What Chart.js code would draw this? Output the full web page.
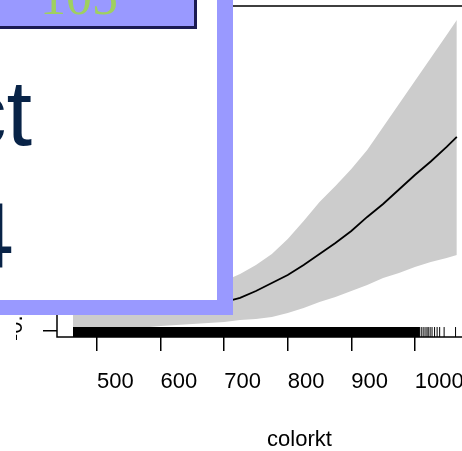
<!DOCTYPE html>
<html>
<head>
<meta charset="utf-8">
<script src="https://cdn.jsdelivr.net/npm/chart.js@4.4.1/dist/chart.umd.min.js"></script>
<style>
  html, body { margin: 0; padding: 0; background: #fff; }
  #wrap { position: relative; width: 462px; height: 451px; overflow: hidden; }
  #plot { position: absolute; left: 0; top: 0; }
  .ov { position: absolute; }
  #frame { left: 0; top: 0; width: 233px; height: 315px; background: #9999ff; }
  #inner { left: 0; top: 0; width: 217px; height: 300px; background: #fff; }
  #badge { left: -10px; top: -10px; width: 207px; height: 39px; box-sizing: border-box;
           background: #9999ff; border-right: 3px solid #1b1b52; border-bottom: 3px solid #1b1b52; }
  #badgeText { left: 0; top: -29px; width: 158px; text-align: center; white-space: nowrap;
               font-family: 'Liberation Serif', 'Times New Roman', serif; font-size: 52px; line-height: 52px; color: #9fd060; }
  .big { font-family: 'Liberation Sans', Arial, sans-serif; font-size: 92px; line-height: 92px;
         color: #082347; text-align: right; white-space: nowrap; }
  #ct { right: 430px; top: 67px; }
  #four { right: 448px; top: 189px; }
</style>
</head>
<body>
<div id="wrap">
  <canvas id="plot" width="550" height="451"></canvas>
  <div class="ov" id="frame"></div>
  <div class="ov" id="inner"></div>
  <div class="ov" id="badge"></div>
  <div class="ov" id="badgeText">105</div>
  <div class="ov big" id="ct">ct</div>
  <div class="ov big" id="four">4</div>
</div>
<script>
// smooth term for colorkt
const colorkt = [462, 500, 550, 600, 650, 700, 725, 750, 775, 800, 825, 850, 875, 900, 925, 950, 975, 1000, 1025, 1050, 1066];
const fit = [-0.275, -0.265, -0.255, -0.245, -0.235, -0.216, -0.176, -0.108, -0.029, 0.049, 0.147, 0.255, 0.363,
             0.480, 0.618, 0.745, 0.887, 1.029, 1.162, 1.304, 1.402];
const upper = [-0.020, -0.049, -0.069, -0.069, -0.039, -0.010, 0.059, 0.147, 0.255, 0.402, 0.578, 0.765, 0.922,
               1.088, 1.275, 1.500, 1.725, 1.951, 2.176, 2.402, 2.549];
const lower = [-0.529, -0.510, -0.480, -0.451, -0.431, -0.412, -0.392, -0.382, -0.363, -0.324, -0.275, -0.216, -0.167,
               -0.108, -0.049, 0.020, 0.069, 0.127, 0.176, 0.216, 0.245];

// rug: solid where observations are dense, single marks where sparse
const rugDense = [462, 1008];
const rugSparse = [1010, 1013, 1016, 1019, 1021, 1024, 1027, 1031, 1035, 1039, 1046, 1064];

const xTicks = [500, 600, 700, 800, 900, 1000];
const yTicks = [-0.5, 0, 0.5, 1, 1.5, 2, 2.5];
const xRange = [437, 1200];
const yRange = [-0.559, 2.686];

const rugTop = yRange[0] + 0.03 * (yRange[1] - yRange[0]);
const rugMid = yRange[0] + 0.015 * (yRange[1] - yRange[0]);

const pts = (ys) => colorkt.map((x, i) => ({ x: x, y: ys[i] }));
const none = 'rgba(0,0,0,0)';

Chart.defaults.font.family = "'Liberation Sans', Arial, sans-serif";

const plotBox = {
    id: 'plotBox',
    afterDraw(chart) {
        const { ctx, chartArea: a } = chart;
        ctx.save();
        ctx.strokeStyle = '#000';
        ctx.lineWidth = 1.5;
        ctx.strokeRect(a.left, a.top, a.right - a.left, a.bottom - a.top);
        ctx.restore();
    }
};

new Chart(document.getElementById('plot'), {
    type: 'line',
    data: {
        datasets: [
            { label: 'fit', data: pts(fit), borderColor: '#000', borderWidth: 1.8, pointRadius: 0, fill: false },
            { label: 'rug', data: rugSparse.map(x => ({ x: x, y: rugMid })), showLine: false,
              pointStyle: 'line', rotation: 90, pointRadius: 5, pointBorderWidth: 1,
              pointBorderColor: '#000', borderColor: '#000' },
            { label: 'rugBand', data: rugDense.map(x => ({ x: x, y: rugTop })), borderColor: none,
              borderWidth: 0, pointRadius: 0, fill: 'start', backgroundColor: '#000' },
            { label: 'upper', data: pts(upper), borderColor: none, borderWidth: 0, pointRadius: 0,
              fill: '+1', backgroundColor: '#cccccc' },
            { label: 'lower', data: pts(lower), borderColor: none, borderWidth: 0, pointRadius: 0, fill: false }
        ]
    },
    options: {
        responsive: false,
        animation: false,
        layout: { padding: { left: 16, top: 6, right: 8, bottom: 0 } },
        plugins: { legend: { display: false }, tooltip: { enabled: false } },
        scales: {
            x: {
                type: 'linear',
                min: xRange[0],
                max: xRange[1],
                afterBuildTicks: (s) => { s.ticks = xTicks.map(v => ({ value: v })); },
                afterFit: (s) => { s.height = 114; s.paddingLeft = 0; s.paddingRight = 0; },
                grid: { drawOnChartArea: false, drawTicks: true, tickLength: 14, color: '#000', lineWidth: 1.5 },
                border: { display: false },
                ticks: {
                    color: '#000',
                    font: { size: 22, lineHeight: 1 },
                    align: 'start',
                    padding: 20,
                    maxRotation: 0,
                    autoSkip: false,
                    callback: (v) => String(v)
                },
                title: {
                    display: true,
                    text: 'colorkt',
                    color: '#000',
                    font: { size: 22, lineHeight: 1 },
                    padding: { top: 0, bottom: 0 }
                }
            },
            y: {
                type: 'linear',
                min: yRange[0],
                max: yRange[1],
                afterBuildTicks: (s) => { s.ticks = yTicks.map(v => ({ value: v })); },
                afterFit: (s) => { s.width = 41; s.paddingTop = 0; s.paddingBottom = 0; },
                grid: { drawOnChartArea: false, drawTicks: true, tickLength: 14, color: '#000', lineWidth: 1.5 },
                border: { display: false },
                ticks: {
                    color: '#000',
                    font: { size: 22, lineHeight: 1 },
                    minRotation: 90,
                    maxRotation: 90,
                    crossAlign: 'far',
                    labelOffset: 10,
                    autoSkip: false,
                    callback: (v) => v.toFixed(1)
                }
            }
        }
    },
    plugins: [plotBox]
});
</script>
</body>
</html>
